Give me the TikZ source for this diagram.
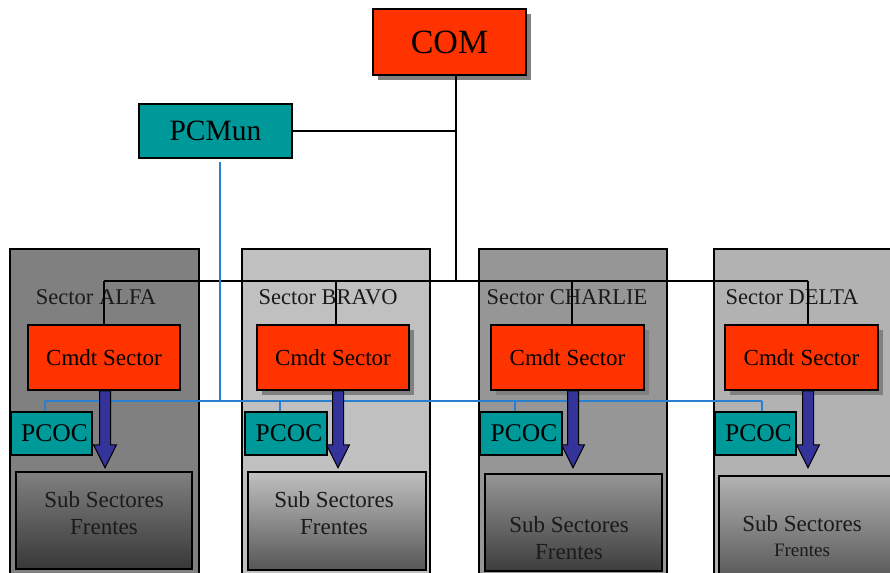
\documentclass[tikz,border=0pt]{standalone}
\usepackage{fontspec}
\setmainfont{Liberation Serif}
\usetikzlibrary{calc}

\definecolor{cmdred}{HTML}{FF3300}
\definecolor{postteal}{HTML}{009999}
\definecolor{arrowblue}{HTML}{333399}
\definecolor{linkblue}{HTML}{2A80D0}
\definecolor{shadowgray}{HTML}{808080}
\definecolor{inktext}{HTML}{1A1A1A}
\definecolor{panelA}{HTML}{808080}
\definecolor{panelB}{HTML}{C0C0C0}
\definecolor{panelC}{HTML}{969696}
\definecolor{panelD}{HTML}{B2B2B2}

\tikzset{
  framed/.style={draw=black, line width=1.6pt, inner sep=0pt},
  shadowed/.style={preaction={fill=shadowgray, transform canvas={shift={(5pt,-5pt)}}}},
  panel/.style={framed, minimum height=331pt},
  redbox/.style={framed, fill=cmdred, text=black},
  cmdbox/.style={redbox, shadowed, minimum height=65pt, font=\fontsize{23}{27}\selectfont},
  pcocbox/.style={framed, fill=postteal, text=black, minimum width=81pt, minimum height=43pt,
                  font=\fontsize{25.5}{30}\selectfont},
  subbox/.style={framed},
  seclabel/.style={text=inktext, inner sep=0pt, font=\fontsize{22.5}{27}\selectfont},
  sublabel/.style={text=inktext, inner sep=0pt, align=center, font=\fontsize{23}{27}\selectfont},
  chain/.style={draw=black, line width=1.6pt},
  bluelink/.style={draw=linkblue, line width=1.5pt},
  fatarrow/.style={draw=black, line width=1pt, fill=arrowblue, line join=miter},
}

\begin{document}
\begin{tikzpicture}[x=1pt, y=-1pt]
  \path[use as bounding box] (0,0) rectangle (890,572);
  \clip (0,0) rectangle (890,572);
  \fill[white] (0,0) rectangle (890,572);

  % sector panels
  \node[panel, fill=panelA, minimum width=189pt] (panA) at (104.5,414.5) {};
  \node[panel, fill=panelB, minimum width=188pt] (panB) at (336,414.5) {};
  \node[panel, fill=panelC, minimum width=188pt] (panC) at (573,414.5) {};
  \node[panel, fill=panelD, minimum width=190pt] (panD) at (809,414.5) {};

  % top level posts
  \node[redbox, shadowed, minimum width=153pt, minimum height=66pt,
        font=\fontsize{34}{40}\selectfont] (com) at (449.5,42) {COM};
  \node[framed, fill=postteal, minimum width=153pt, minimum height=54pt,
        font=\fontsize{29.5}{34}\selectfont] (pcmun) at (215.5,131) {PCMun};

  % sector captions
  \node[seclabel] (labA) at (96,297) {Sector ALFA};
  \node[seclabel] (labB) at (328,297) {Sector BRAVO};
  \node[seclabel] (labC) at (567,297) {Sector CHARLIE};
  \node[seclabel] (labD) at (792,297) {Sector DELTA};

  % command chain
  \coordinate (hub) at (456,281);
  \coordinate (tA) at (104,281);
  \coordinate (tB) at (336,281);
  \coordinate (tC) at (572,281);
  \coordinate (tD) at (808,281);

  \node[cmdbox, minimum width=152pt] (cmdA) at (104,357.5) {Cmdt Sector};
  \node[cmdbox, minimum width=152pt] (cmdB) at (333,357.5) {Cmdt Sector};
  \node[cmdbox, minimum width=153pt] (cmdC) at (567.5,357.5) {Cmdt Sector};
  \node[cmdbox, minimum width=153pt] (cmdD) at (801.5,357.5) {Cmdt Sector};

  \draw[chain] (com.south -| hub) -- (hub);
  \draw[chain] (pcmun.east) -- (pcmun.east -| hub);
  \draw[chain] (tA) -- (tD);
  \foreach \s in {A,B,C,D}
    \draw[chain] (t\s) -- (cmd\s.north -| t\s);

  % coordination links
  \coordinate (bTop) at (220,162);
  \coordinate (bHub) at (220,401);
  \coordinate (bA) at (45,401);
  \coordinate (bB) at (280,401);
  \coordinate (bC) at (515,401);
  \coordinate (bD) at (762,401);

  \node[pcocbox] (pcocA) at (51.5,433.5) {\hspace*{6pt}PCOC};
  \node[pcocbox, minimum width=82pt] (pcocB) at (286,433.5) {\hspace*{6pt}PCOC};
  \node[pcocbox, minimum width=82pt] (pcocC) at (521,433.5) {\hspace*{6pt}PCOC};
  \node[pcocbox] (pcocD) at (755.5,433.5) {\hspace*{6pt}PCOC};

  \draw[bluelink] (bTop) -- (bHub);
  \draw[bluelink] (bA) -- (bD);
  \foreach \s in {A,B,C,D}
    \draw[bluelink] (b\s) -- (pcoc\s.north -| b\s);

  % sub sector boxes
  \node[subbox, minimum width=176pt, minimum height=97pt,
        top color=panelA, middle color=black!55, bottom color=black!78] (subA) at (104,520.5) {};
  \node[subbox, minimum width=178pt, minimum height=98pt,
        top color=panelB, middle color=black!33, bottom color=black!66] (subB) at (337,521) {};
  \node[subbox, minimum width=177pt, minimum height=97pt,
        top color=panelC, middle color=black!48, bottom color=black!76] (subC) at (573.5,522.5) {};
  \node[subbox, minimum width=176pt, minimum height=104pt,
        top color=panelD, middle color=black!38, bottom color=black!66] (subD) at (807,528) {};

  \node[sublabel] (subtA) at (104,513.5) {Sub Sectores\\Frentes};
  \node[sublabel] (subtB) at (334,513.5) {Sub Sectores\\Frentes};
  \node[sublabel] (subtC) at (569,538) {Sub Sectores\\Frentes};
  \node[sublabel] (subtD) at (802,524) {Sub Sectores};
  \node[text=inktext, inner sep=0pt, font=\fontsize{19}{22}\selectfont] (subtD2) at (802,550) {Frentes};

  % orders flowing down to the sub sectors
  \foreach \s/\d in {A/1,B/5,C/5.5,D/6.5}
    \draw[fatarrow] ([xshift=\d pt]cmd\s.south) ++(-5.5,0) -- ++(0,54) -- ++(-6,0)
      -- ++(11.5,23) -- ++(11.5,-23) -- ++(-6,0) -- ++(0,-54) -- cycle;
\end{tikzpicture}
\end{document}
